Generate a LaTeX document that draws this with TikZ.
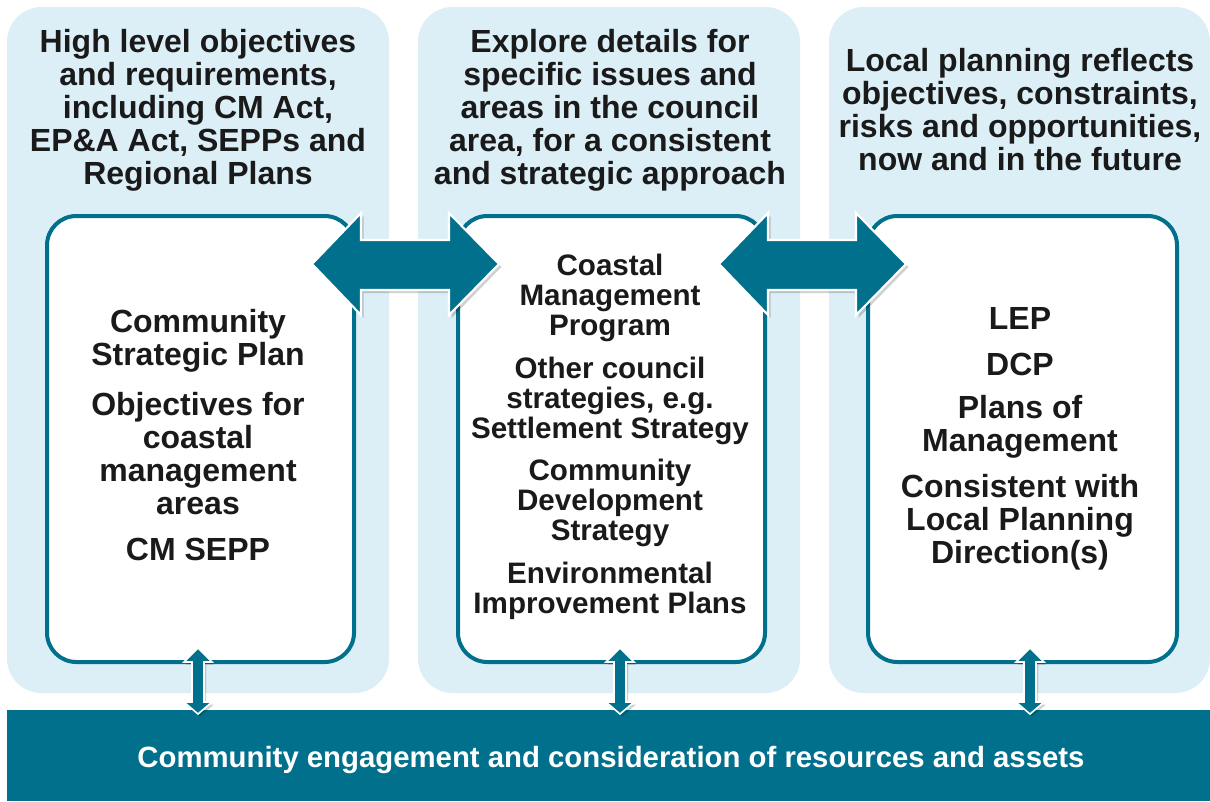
\documentclass[tikz,border=0pt]{standalone}
\usepackage{fontspec}
\setmainfont{Liberation Sans}
\begin{document}
\definecolor{teal}{RGB}{0,112,140}
\definecolor{pale}{RGB}{220,239,246}
\definecolor{ink}{RGB}{26,26,26}
\begin{tikzpicture}[x=0.75pt,y=-0.75pt,
  panel/.style={fill=pale,rounded corners=26pt},
  card/.style={fill=white,draw=teal,line width=3pt,rounded corners=22pt},
  head/.style={align=center,text=ink,font=\fontsize{24}{24.75}\selectfont\bfseries,inner sep=0pt},
  item/.style={align=center,text=ink,font=\fontsize{24}{24.75}\selectfont\bfseries,inner sep=0pt},
  itemb/.style={align=center,text=ink,font=\fontsize{22.2}{22.5}\selectfont\bfseries,inner sep=0pt},
  bar/.style={fill=teal},
  bartext/.style={text=white,font=\fontsize{22}{24}\selectfont\bfseries,inner sep=0pt},
  bigarrow/.style={fill=teal,draw=white,line width=1.6pt,line join=miter},
  shade/.style={fill=black,opacity=0.18},
  ]
\useasboundingbox (0,0) rectangle (1210,801);
\fill[white] (0,0) rectangle (1210,801);

% background panels
\path[panel] (7,7) rectangle (389,693);
\path[panel] (418,7) rectangle (800,693);
\path[panel] (829,7) rectangle (1210,693);

% bottom bar
\node[bar,minimum width=1203*0.75pt,minimum height=91*0.75pt,anchor=north west,inner sep=0pt] (base) at (7,710) {};
\node[bartext] (basetext) at (611,760) {Community engagement and consideration of resources and assets};

% white cards
\node[card,minimum width=307*0.75pt,minimum height=446*0.75pt,anchor=north west] (c1) at (45,214) {};
\node[card,minimum width=307*0.75pt,minimum height=446*0.75pt,anchor=north west] (c2) at (456,214) {};
\node[card,minimum width=309*0.75pt,minimum height=446*0.75pt,anchor=north west] (c3) at (866,214) {};

% panel headings
\node[head] (h1) at (198,110) {High level objectives\\and requirements,\\including CM Act,\\EP\&A Act, SEPPs and\\Regional Plans};
\node[head] (h2) at (610,110) {Explore details for\\specific issues and\\areas in the council\\area, for a consistent\\and strategic approach};
\node[head] (h3) at (1020,110) {Local planning reflects\\objectives, constraints,\\risks and opportunities,\\now and in the future};

% first card
\node[item] (a1) at (198,341) {Community\\Strategic Plan};
\node[item] (a2) at (198,454) {Objectives for\\coastal\\management\\areas};
\node[item] (a3) at (198,549) {CM SEPP};

% second card
\node[itemb] (b1) at (610,298) {Coastal\\Management\\Program};
\node[itemb] (b2) at (610,401) {Other council\\strategies, e.g.\\Settlement Strategy};
\node[itemb] (b3) at (610,503) {Community\\Development\\Strategy};
\node[itemb] (b4) at (610,591) {Environmental\\Improvement Plans};

% third card
\node[item] (d1) at (1020,318) {LEP};
\node[item] (d2) at (1020,364) {DCP};
\node[item] (d3) at (1020,427) {Plans of\\Management};
\node[item] (d4) at (1020,522) {Consistent with\\Local Planning\\Direction(s)};

% horizontal double arrows between the cards
\def\hdarrow#1{%
  \fill[shade,xshift=2.5*0.75pt,yshift=-3*0.75pt] (#1+0,264) -- (#1+49,213) -- (#1+49,240) -- (#1+137,240) -- (#1+137,213) -- (#1+187,264) -- (#1+137,315) -- (#1+137,290) -- (#1+49,290) -- (#1+49,315) -- cycle;
  \draw[bigarrow] (#1+0,264) -- (#1+49,213) -- (#1+49,240) -- (#1+137,240) -- (#1+137,213) -- (#1+187,264) -- (#1+137,315) -- (#1+137,290) -- (#1+49,290) -- (#1+49,315) -- cycle;}
\hdarrow{312}
\hdarrow{719}

% vertical double arrows down to the bar
\def\vdarrow#1{%
  \fill[shade,xshift=2*0.75pt,yshift=-2.5*0.75pt] (#1,648) -- (#1+14,662) -- (#1+6,662) -- (#1+6,702) -- (#1+14,702) -- (#1,714) -- (#1-14,702) -- (#1-6,702) -- (#1-6,662) -- (#1-14,662) -- cycle;
  \draw[bigarrow,line width=1.2pt] (#1,648) -- (#1+14,662) -- (#1+6,662) -- (#1+6,702) -- (#1+14,702) -- (#1,714) -- (#1-14,702) -- (#1-6,702) -- (#1-6,662) -- (#1-14,662) -- cycle;}
\vdarrow{198}
\vdarrow{620}
\vdarrow{1030}
\end{tikzpicture}
\end{document}
